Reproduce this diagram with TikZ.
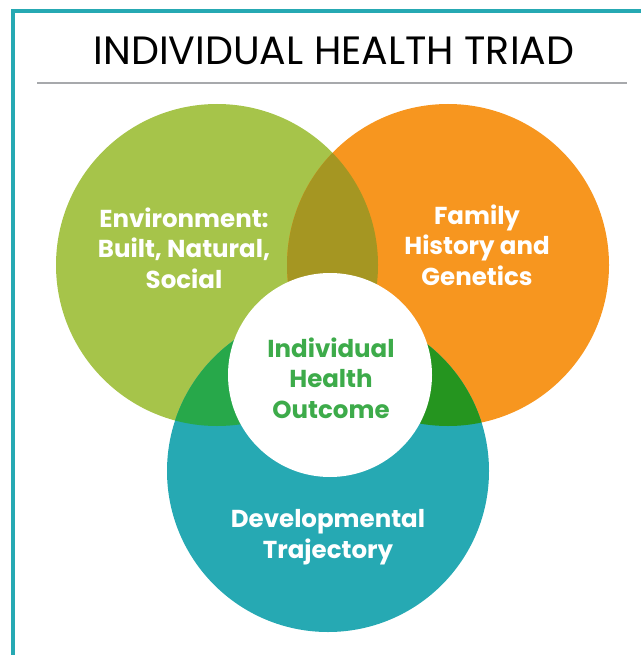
\documentclass[tikz,border=0pt]{standalone}
\usepackage{fontspec}
\setmainfont{Poppins}
\usetikzlibrary{positioning}

\definecolor{envgreen}{HTML}{A6C44A}
\definecolor{famorange}{HTML}{F7961F}
\definecolor{devteal}{HTML}{26A9B3}
\definecolor{olive}{HTML}{A59622}
\definecolor{midgreen}{HTML}{27A84A}
\definecolor{darkgreen}{HTML}{25951F}
\definecolor{outgreen}{HTML}{3DAB4A}
\definecolor{rulegray}{HTML}{A7A9AC}

\begin{document}
\begin{tikzpicture}[x=1pt,y=-1pt,
	lbl/.style={align=center, text=white, font=\fontsize{24.5}{30.5}\selectfont\bfseries}]
		\useasboundingbox (0,0) rectangle (641,655);
		\draw[devteal, line width=4pt] (13,655) -- (13,11) -- (641,11);
		\node (title) at (334,51) {\fontsize{39.5}{45}\selectfont INDIVIDUAL HEALTH TRIAD};
		\draw[rulegray, line width=2pt] (37,83) -- (627,83);
		% three circles
		\fill[envgreen] (217,265) circle (161);
		\fill[famorange] (448,265) circle (161);
		\fill[devteal] (328,471) circle (161);
		% overlaps
		\begin{scope}
			\clip (217,265) circle (161);
			\fill[olive] (448,265) circle (161);
			\fill[midgreen] (328,471) circle (161);
		\end{scope}
		\begin{scope}
			\clip (448,265) circle (161);
			\fill[darkgreen] (328,471) circle (161);
		\end{scope}
		\fill[white] (330,375) circle (102);
		\node[lbl] (env) at (184,248) {Environment:\\Built, Natural,\\Social};
		\node[lbl] (fam) at (477,245) {Family\\History and\\Genetics};
		\node[lbl, text=outgreen] (out) at (331,378) {Individual\\Health\\Outcome};
		\node[lbl] (dev) at (328,537) {Developmental\\Trajectory};
\end{tikzpicture}
\end{document}
